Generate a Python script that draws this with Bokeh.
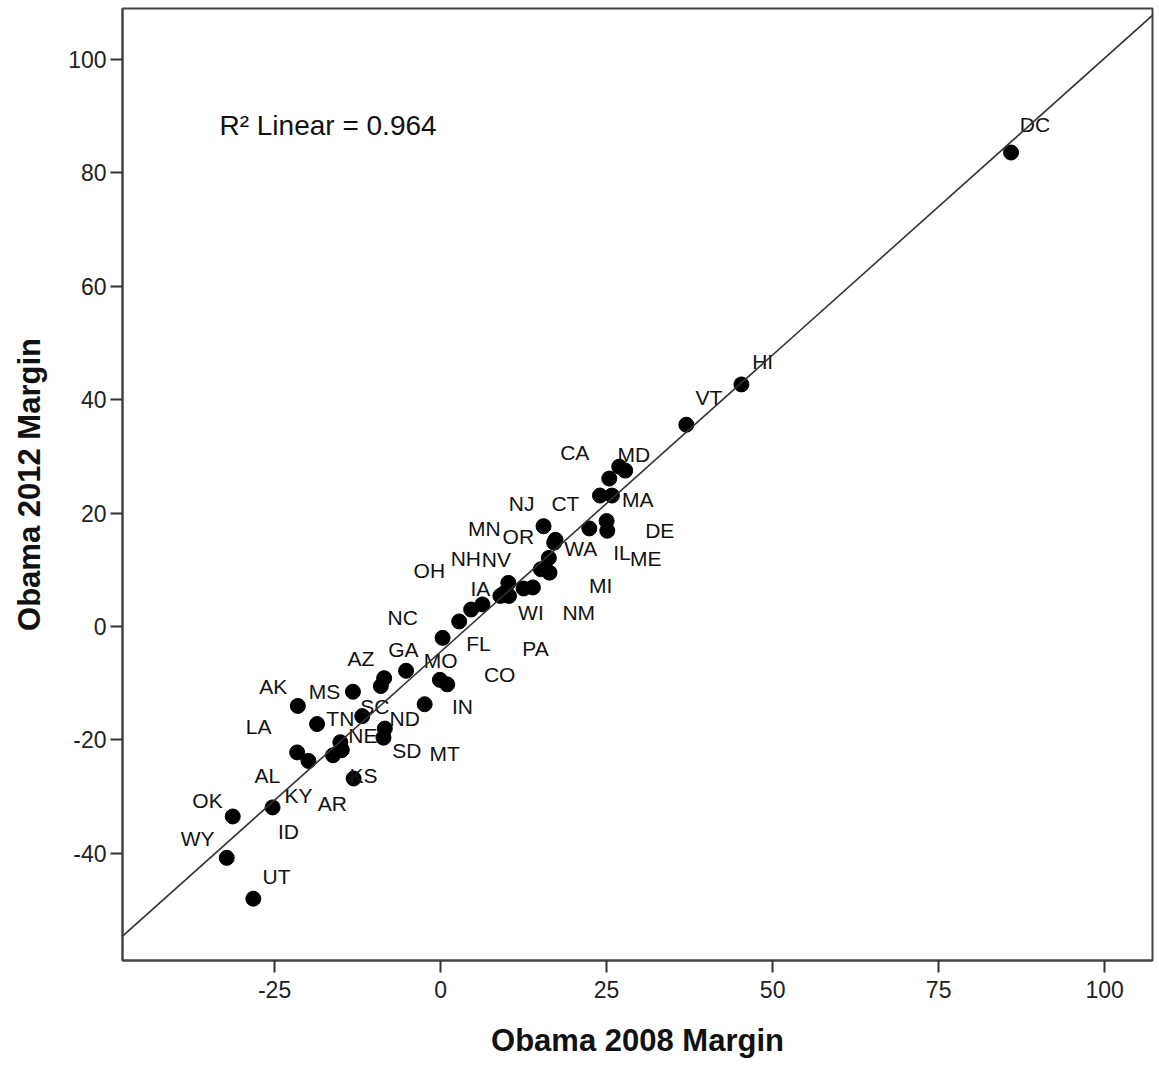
import numpy as np
from bokeh.plotting import figure
from bokeh.models import ColumnDataSource, Slope, Label, FixedTicker, Range1d
from bokeh.core.properties import value
from bokeh.embed import file_html
from bokeh.resources import INLINE

# ---- data ----
states = ["AL","AK","AZ","AR","CA","CO","CT","DE","DC","FL","GA","HI","ID","IL","IN","IA","KS",
          "KY","LA","ME","MD","MA","MI","MN","MS","MO","MT","NE","NV","NH","NJ","NM","NY","NC",
          "ND","OH","OK","OR","PA","RI","SC","SD","TN","TX","UT","VT","VA","WA","WV","WI","WY"]
obama_2008 = [-21.6,-21.5,-8.5,-19.9,24.0,9.0,22.4,25.0,85.9,2.8,-5.2,45.3,-25.3,25.1,1.0,9.5,-14.9,
              -16.2,-18.6,17.3,25.4,25.8,16.4,10.2,-13.2,-0.1,-2.4,-14.9,12.5,9.6,15.5,15.1,26.9,0.3,
              -8.6,4.6,-31.3,16.3,10.3,27.8,-9.0,-8.4,-15.1,-11.8,-28.2,37.0,6.3,17.1,-13.1,13.9,-32.2]
obama_2012 = [-22.2,-14.0,-9.1,-23.7,23.1,5.4,17.3,18.6,83.6,0.9,-7.8,42.7,-31.9,16.9,-10.2,5.8,-21.7,
              -22.7,-17.2,15.3,26.1,23.1,9.5,7.7,-11.5,-9.4,-13.7,-21.8,6.7,5.6,17.7,10.1,28.2,-2.0,
              -19.6,3.0,-33.5,12.1,5.4,27.5,-10.5,-18.0,-20.4,-15.8,-48.0,35.6,3.9,14.8,-26.8,6.9,-40.8]

label_states = ["DC","HI","VT","CA","MD","MA","DE","IL","ME","NJ","CT","MN","OR","WA","MI","NM",
                "OH","NH","NV","IA","WI","NC","FL","PA","AZ","GA","MO","CO","AK","MS","SC","TN",
                "ND","NE","LA","SD","MT","IN","AL","KS","KY","AR","OK","ID","WY","UT"]
label_x = [89.5,48.5,40.4,20.2,29.1,29.7,33.0,27.3,30.9,12.2,18.8,6.6,11.7,21.1,24.1,20.8,
           -1.7,3.8,8.4,6.0,13.6,-5.7,5.7,14.3,-12.0,-5.6,0.0,8.9,-25.2,-17.5,-9.9,-15.1,
           -5.4,-11.7,-27.4,-5.1,0.6,3.3,-26.1,-11.6,-21.4,-16.3,-35.1,-22.9,-36.6,-24.7]
label_y = [88.5,46.7,40.4,30.7,30.3,22.4,16.9,13.1,12.0,21.7,21.7,17.3,15.9,13.8,7.2,2.5,
           9.9,12.0,11.8,6.7,2.5,1.6,-3.0,-3.9,-5.6,-4.1,-6.0,-8.5,-10.6,-11.5,-14.1,-16.2,
           -16.2,-19.2,-17.6,-21.9,-22.4,-14.1,-26.3,-26.3,-29.8,-31.2,-30.7,-36.2,-37.4,-44.1]

x_ticks = [-25, 0, 25, 50, 75, 100]
y_ticks = [-40, -20, 0, 20, 40, 60, 80, 100]
r2_text = "R\u00b2 Linear = 0.964"
x_title = "Obama 2008 Margin"
y_title = "Obama 2012 Margin"

FONT = "Liberation Sans"

p = figure(width=1159, height=1067, output_backend="svg", toolbar_location=None,
           x_range=Range1d(-47.9, 107.2), y_range=Range1d(-58.9, 109.0),
           min_border_left=122, min_border_right=7, min_border_top=8, min_border_bottom=107)
p.grid.visible = False
p.background_fill_color = "white"
p.border_fill_color = "white"
p.outline_line_color = "#444444"
p.outline_line_width = 2

for ax, ticks in ((p.xaxis[0], x_ticks), (p.yaxis[0], y_ticks)):
    ax.ticker = FixedTicker(ticks=ticks)
    ax.major_label_overrides = {t: str(t) for t in ticks}
    ax.minor_tick_line_color = None
    ax.major_tick_in = 0
    ax.major_tick_out = 12
    ax.major_tick_line_width = 2
    ax.major_tick_line_color = "#333333"
    ax.axis_line_color = "#444444"
    ax.axis_line_width = 2
    ax.major_label_text_font = FONT
    ax.major_label_text_font_size = "23px"
    ax.major_label_text_color = "#222222"
    ax.axis_label_text_font = FONT
    ax.axis_label_text_font_style = "bold"
    ax.axis_label_text_font_size = "31px"
    ax.axis_label_text_color = "#111111"

p.xaxis[0].axis_label = x_title
p.yaxis[0].axis_label = y_title
p.xaxis[0].major_label_standoff = 8
p.xaxis[0].axis_label_standoff = 22
p.yaxis[0].major_label_standoff = 4
p.yaxis[0].axis_label_standoff = 18

# regression line
slope, intercept = np.polyfit(obama_2008, obama_2012, 1)
p.add_layout(Slope(gradient=slope, y_intercept=intercept, line_color="#333333", line_width=1.6))

src = ColumnDataSource(dict(x=obama_2008, y=obama_2012, state=states))
p.scatter("x", "y", source=src, size=15, fill_color="black", line_color="black")

lab = ColumnDataSource(dict(x=label_x, y=label_y, text=label_states))
p.text("x", "y", text="text", source=lab, text_font=value(FONT), text_font_size="21px",
       text_align="center", text_baseline="middle", text_color="#111111")

p.add_layout(Label(x=-33.3, y=88.4, text=r2_text, text_font=FONT, text_font_size="28px",
                   text_color="#111111", text_align="left", text_baseline="alphabetic"))

open("out.html", "w").write(file_html(p, INLINE))
